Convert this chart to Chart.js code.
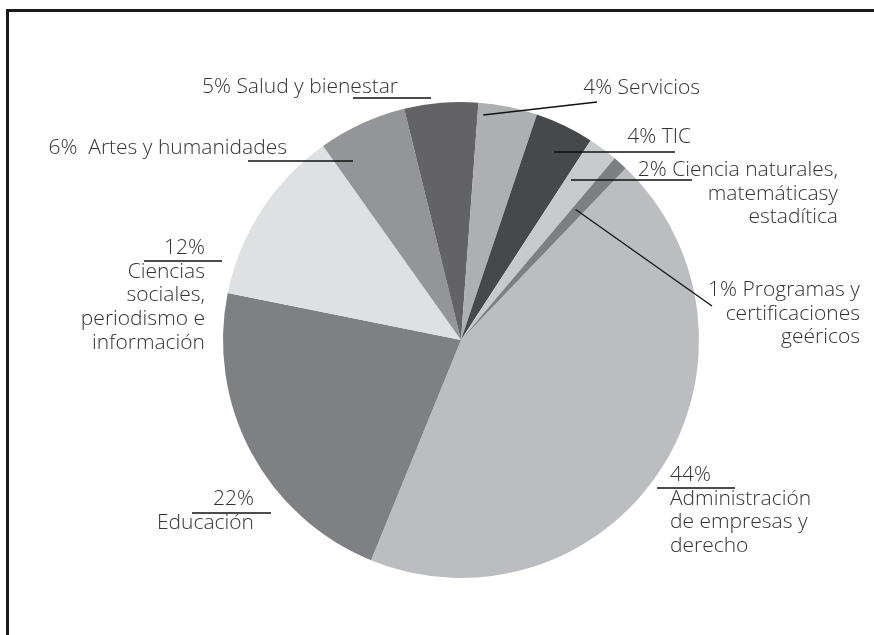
<!DOCTYPE html>
<html>
<head>
<meta charset="utf-8">
<script src="https://cdn.jsdelivr.net/npm/chart.js@4"></script>
<style>
  html, body { margin: 0; padding: 0; background: #fff; }
  #wrap { position: relative; width: 874px; height: 635px; }
</style>
</head>
<body>
<div id="wrap"><canvas id="pieChart" width="874" height="635"></canvas></div>
<script>
// slices in clockwise order, starting at Administración
const categories = [
  'Administración de empresas y derecho',
  'Educación',
  'Ciencias sociales, periodismo e información',
  'Artes y humanidades',
  'Salud y bienestar',
  'Servicios',
  'TIC',
  'Ciencia naturales, matemáticasy estadítica',
  'Programas y certificaciones geéricos'
]
const shares = [44, 22, 12, 6, 5, 4, 4, 2, 1]
const shareLabels = ['44%', '22%', '12%', '6%', '5%', '4%', '4%', '2%', '1%']
const labelLines = [
  ['Administración', 'de empresas y', 'derecho'],
  ['Educación'],
  ['Ciencias', 'sociales,', 'periodismo e', 'información'],
  ['Artes y humanidades'],
  ['Salud y bienestar'],
  ['Servicios'],
  ['TIC'],
  ['Ciencia naturales,', 'matemáticasy', 'estadítica'],
  ['Programas y', 'certificaciones', 'geéricos']
]
const sliceColors = ['#bcbdc0', '#7f8084', '#dfe0e2', '#949598', '#636366', '#aeafb2', '#47484b', '#c8c9cb', '#7e7f83']

// label placement (pixels): stacked = percentage on its own line above the name
const labelLayout = [
  { x: 670, y: 475, align: 'left',  stacked: true,  under: [657, 735, 488] },
  { x: 254, y: 499, align: 'right', stacked: true,  under: [192, 271, 513] },
  { x: 205, y: 248, align: 'right', stacked: true,  under: [144, 222, 261] },
  { x: 287, y: 148, align: 'right', sep: '  ',      under: [248, 353, 161] },
  { x: 398, y: 87,  align: 'right', sep: ' ',       under: [353, 431, 98] },
  { x: 700, y: 88,  align: 'right', sep: ' ',       leader: { t: 0.1, r: 0.95, to: [597, 102] } },
  { x: 691, y: 137, align: 'right', sep: ' ',       under: [554, 675, 152] },
  { x: 838, y: 170, align: 'right', sep: ' ',       under: [571, 692, 180] },
  { x: 860, y: 290, align: 'right', sep: ' ',       leader: { t: 0.3, r: 0.73, to: [712, 306] } }
]

const FONT = '300 21px "Open Sans", sans-serif'
const LINE_H = 23.7

const pieLabels = {
  id: 'pieLabels',
  afterDraw(chart) {
    const ctx = chart.ctx
    const arcs = chart.getDatasetMeta(0).data
    ctx.save()

    // frame (top and left edges, rest is cropped)
    ctx.strokeStyle = '#1a1a1a'
    ctx.lineWidth = 3
    ctx.beginPath()
    ctx.moveTo(7.5, 640)
    ctx.lineTo(7.5, 10.5)
    ctx.lineTo(880, 10.5)
    ctx.stroke()

    ctx.font = FONT
    ctx.fillStyle = '#333'
    ctx.textBaseline = 'middle'
    ctx.strokeStyle = '#111'
    ctx.lineWidth = 1.3

    labelLayout.forEach((lay, i) => {
      let lines
      if (lay.stacked) lines = [shareLabels[i]].concat(labelLines[i])
      else lines = [shareLabels[i] + lay.sep + labelLines[i][0]].concat(labelLines[i].slice(1))
      ctx.textAlign = lay.align
      lines.forEach((ln, k) => ctx.fillText(ln, lay.x, lay.y + k * LINE_H))

      ctx.beginPath()
      if (lay.under) {
        ctx.moveTo(lay.under[0], lay.under[2])
        ctx.lineTo(lay.under[1], lay.under[2])
      } else if (lay.leader) {
        const a = arcs[i]
        const ang = a.startAngle + (a.endAngle - a.startAngle) * lay.leader.t
        const r = a.outerRadius * lay.leader.r
        ctx.moveTo(a.x + Math.cos(ang) * r, a.y + Math.sin(ang) * r)
        ctx.lineTo(lay.leader.to[0], lay.leader.to[1])
      }
      ctx.stroke()
    })
    ctx.restore()
  }
}

new Chart(document.getElementById('pieChart'), {
  type: 'pie',
  data: {
    labels: categories,
    datasets: [{
      data: shares,
      backgroundColor: sliceColors,
      borderWidth: 0
    }]
  },
  options: {
    responsive: false,
    animation: false,
    rotation: 43.8,
    layout: { padding: { top: 102, bottom: 57, left: 161, right: 113 } },
    plugins: {
      legend: { display: false },
      tooltip: { enabled: false }
    }
  },
  plugins: [pieLabels]
})
</script>
</body>
</html>
